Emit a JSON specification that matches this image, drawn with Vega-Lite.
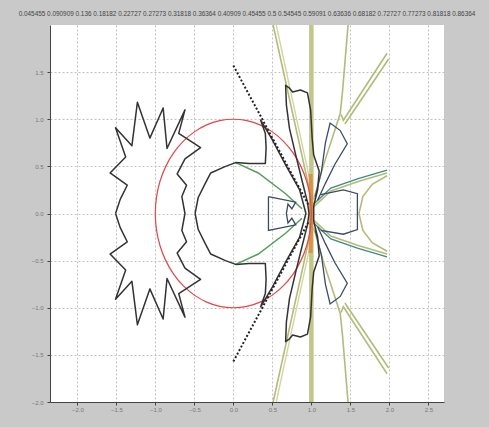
{
"$schema":"https://vega.github.io/schema/vega-lite/v6.json",
"width":394,"height":377,"autosize":"none",
"padding":{"left":50,"top":25,"right":45,"bottom":25},
"background":"#c9c9c9",
"config":{"view":{"fill":"white","stroke":null}},
"title":{"text":"0.045455 0.090909 0.136 0.18182 0.22727 0.27273 0.31818 0.36364 0.40909 0.45455 0.5 0.54545 0.59091 0.63636 0.68182 0.72727 0.77273 0.81818 0.86364","fontSize":6.4,"font":"Liberation Sans","fontWeight":"normal","color":"#444","offset":8,"anchor":"middle"},
"data":{"values":[
{"s":"circ","o":0,"x":1,"y":0},{"s":"circ","o":1,"x":0.985,"y":0.174},{"s":"circ","o":2,"x":0.94,"y":0.342},{"s":"circ","o":3,"x":0.866,"y":0.5},{"s":"circ","o":4,"x":0.766,"y":0.643},{"s":"circ","o":5,"x":0.643,"y":0.766},{"s":"circ","o":6,"x":0.5,"y":0.866},{"s":"circ","o":7,"x":0.342,"y":0.94},{"s":"circ","o":8,"x":0.174,"y":0.985},{"s":"circ","o":9,"x":0,"y":1},{"s":"circ","o":10,"x":-0.174,"y":0.985},{"s":"circ","o":11,"x":-0.342,"y":0.94},{"s":"circ","o":12,"x":-0.5,"y":0.866},{"s":"circ","o":13,"x":-0.643,"y":0.766},{"s":"circ","o":14,"x":-0.766,"y":0.643},{"s":"circ","o":15,"x":-0.866,"y":0.5},{"s":"circ","o":16,"x":-0.94,"y":0.342},{"s":"circ","o":17,"x":-0.985,"y":0.174},{"s":"circ","o":18,"x":-1,"y":0},{"s":"circ","o":19,"x":-0.985,"y":-0.174},{"s":"circ","o":20,"x":-0.94,"y":-0.342},{"s":"circ","o":21,"x":-0.866,"y":-0.5},{"s":"circ","o":22,"x":-0.766,"y":-0.643},{"s":"circ","o":23,"x":-0.643,"y":-0.766},{"s":"circ","o":24,"x":-0.5,"y":-0.866},{"s":"circ","o":25,"x":-0.342,"y":-0.94},{"s":"circ","o":26,"x":-0.174,"y":-0.985},{"s":"circ","o":27,"x":0,"y":-1},{"s":"circ","o":28,"x":0.174,"y":-0.985},{"s":"circ","o":29,"x":0.342,"y":-0.94},{"s":"circ","o":30,"x":0.5,"y":-0.866},{"s":"circ","o":31,"x":0.643,"y":-0.766},{"s":"circ","o":32,"x":0.766,"y":-0.643},{"s":"circ","o":33,"x":0.866,"y":-0.5},{"s":"circ","o":34,"x":0.94,"y":-0.342},{"s":"circ","o":35,"x":0.985,"y":-0.174},{"s":"circ","o":36,"x":1,"y":0},

{"s":"A","o":0,"x":-1.51,"y":0},{"s":"A","o":1,"x":-1.45,"y":0.15},{"s":"A","o":2,"x":-1.36,"y":0.3},{"s":"A","o":3,"x":-1.58,"y":0.43},{"s":"A","o":4,"x":-1.38,"y":0.6},{"s":"A","o":5,"x":-1.51,"y":0.91},{"s":"A","o":6,"x":-1.3,"y":0.72},{"s":"A","o":7,"x":-1.23,"y":1.18},{"s":"A","o":8,"x":-1.07,"y":0.8},{"s":"A","o":9,"x":-0.9,"y":1.12},{"s":"A","o":10,"x":-0.85,"y":0.69},{"s":"A","o":11,"x":-0.62,"y":1.1},{"s":"A","o":12,"x":-0.7,"y":0.85},{"s":"A","o":13,"x":-0.42,"y":0.7},{"s":"A","o":14,"x":-0.62,"y":0.58},{"s":"A","o":15,"x":-0.72,"y":0.42},{"s":"A","o":16,"x":-0.6,"y":0.3},{"s":"A","o":17,"x":-0.66,"y":0.18},{"s":"A","o":18,"x":-0.62,"y":0},{"s":"A","o":19,"x":-0.66,"y":-0.18},{"s":"A","o":20,"x":-0.6,"y":-0.3},{"s":"A","o":21,"x":-0.72,"y":-0.42},{"s":"A","o":22,"x":-0.62,"y":-0.58},{"s":"A","o":23,"x":-0.42,"y":-0.7},{"s":"A","o":24,"x":-0.7,"y":-0.85},{"s":"A","o":25,"x":-0.62,"y":-1.1},{"s":"A","o":26,"x":-0.85,"y":-0.69},{"s":"A","o":27,"x":-0.9,"y":-1.12},{"s":"A","o":28,"x":-1.07,"y":-0.8},{"s":"A","o":29,"x":-1.23,"y":-1.18},{"s":"A","o":30,"x":-1.3,"y":-0.72},{"s":"A","o":31,"x":-1.51,"y":-0.91},{"s":"A","o":32,"x":-1.38,"y":-0.6},{"s":"A","o":33,"x":-1.58,"y":-0.43},{"s":"A","o":34,"x":-1.36,"y":-0.3},{"s":"A","o":35,"x":-1.45,"y":-0.15},{"s":"A","o":36,"x":-1.51,"y":0},

{"s":"B","o":0,"x":-0.49,"y":0},{"s":"B","o":1,"x":-0.45,"y":0.17},{"s":"B","o":2,"x":-0.36,"y":0.32},{"s":"B","o":3,"x":-0.29,"y":0.43},{"s":"B","o":4,"x":-0.1,"y":0.5},{"s":"B","o":5,"x":0.03,"y":0.54},{"s":"B","o":6,"x":0.2,"y":0.53},{"s":"B","o":7,"x":0.41,"y":0.53},{"s":"B","o":8,"x":0.42,"y":0.7},{"s":"B","o":9,"x":0.41,"y":0.85},{"s":"B","o":10,"x":0.35,"y":0.99},{"s":"B","o":11,"x":0.5,"y":0.78},{"s":"B","o":12,"x":0.68,"y":0.5},{"s":"B","o":13,"x":0.85,"y":0.25},{"s":"B","o":14,"x":0.93,"y":0},{"s":"B","o":15,"x":0.85,"y":-0.25},{"s":"B","o":16,"x":0.68,"y":-0.5},{"s":"B","o":17,"x":0.5,"y":-0.78},{"s":"B","o":18,"x":0.35,"y":-0.99},{"s":"B","o":19,"x":0.41,"y":-0.85},{"s":"B","o":20,"x":0.42,"y":-0.7},{"s":"B","o":21,"x":0.41,"y":-0.53},{"s":"B","o":22,"x":0.2,"y":-0.53},{"s":"B","o":23,"x":0.03,"y":-0.54},{"s":"B","o":24,"x":-0.1,"y":-0.5},{"s":"B","o":25,"x":-0.29,"y":-0.43},{"s":"B","o":26,"x":-0.36,"y":-0.32},{"s":"B","o":27,"x":-0.45,"y":-0.17},{"s":"B","o":28,"x":-0.49,"y":0},

{"s":"C","o":0,"x":0.45,"y":0.18},{"s":"C","o":1,"x":0.8,"y":0.12},{"s":"C","o":2,"x":0.75,"y":0.05},{"s":"C","o":3,"x":0.7,"y":0.1},{"s":"C","o":4,"x":0.68,"y":0},{"s":"C","o":5,"x":0.7,"y":-0.1},{"s":"C","o":6,"x":0.75,"y":-0.05},{"s":"C","o":7,"x":0.8,"y":-0.12},{"s":"C","o":8,"x":0.45,"y":-0.18},{"s":"C","o":9,"x":0.45,"y":0.18},

{"s":"G1","o":0,"x":0.03,"y":0.54},{"s":"G1","o":1,"x":0.32,"y":0.43},{"s":"G1","o":2,"x":0.67,"y":0.21},{"s":"G1","o":3,"x":0.88,"y":0.05},
{"s":"G2","o":0,"x":0.03,"y":-0.54},{"s":"G2","o":1,"x":0.32,"y":-0.43},{"s":"G2","o":2,"x":0.67,"y":-0.21},{"s":"G2","o":3,"x":0.88,"y":-0.05},

{"s":"D1","o":0,"x":0,"y":1.57},{"s":"D1","o":1,"x":0.97,"y":0.08},
{"s":"D2","o":0,"x":0,"y":-1.57},{"s":"D2","o":1,"x":0.97,"y":-0.08},

{"s":"V","o":0,"x":1,"y":2},{"s":"V","o":1,"x":1,"y":-2},
{"s":"O","o":0,"x":0.99,"y":0.42},{"s":"O","o":1,"x":1,"y":0},{"s":"O","o":2,"x":0.99,"y":-0.42},

{"s":"R1","o":0,"x":0.97,"y":0},{"s":"R1","o":1,"x":0.95,"y":0.12},{"s":"R1","o":2,"x":0.88,"y":0.35},{"s":"R1","o":3,"x":0.8,"y":0.62},{"s":"R1","o":4,"x":0.72,"y":0.9},{"s":"R1","o":5,"x":0.68,"y":1.15},{"s":"R1","o":6,"x":0.67,"y":1.36},{"s":"R1","o":7,"x":0.72,"y":1.33},{"s":"R1","o":8,"x":0.76,"y":1.29},{"s":"R1","o":9,"x":0.86,"y":1.31},{"s":"R1","o":10,"x":0.95,"y":1.28},{"s":"R1","o":11,"x":0.99,"y":1.1},{"s":"R1","o":12,"x":1.01,"y":0.8},{"s":"R1","o":13,"x":1.03,"y":0.62},{"s":"R1","o":14,"x":1.1,"y":0.45},{"s":"R1","o":15,"x":1.08,"y":0.25},{"s":"R1","o":16,"x":1.03,"y":0.08},{"s":"R1","o":17,"x":1.03,"y":0},{"s":"R1","o":18,"x":1.03,"y":-0.08},{"s":"R1","o":19,"x":1.08,"y":-0.25},{"s":"R1","o":20,"x":1.1,"y":-0.45},{"s":"R1","o":21,"x":1.03,"y":-0.62},{"s":"R1","o":22,"x":1.01,"y":-0.8},{"s":"R1","o":23,"x":0.99,"y":-1.1},{"s":"R1","o":24,"x":0.95,"y":-1.28},{"s":"R1","o":25,"x":0.86,"y":-1.31},{"s":"R1","o":26,"x":0.76,"y":-1.29},{"s":"R1","o":27,"x":0.72,"y":-1.33},{"s":"R1","o":28,"x":0.67,"y":-1.36},{"s":"R1","o":29,"x":0.68,"y":-1.15},{"s":"R1","o":30,"x":0.72,"y":-0.9},{"s":"R1","o":31,"x":0.8,"y":-0.62},{"s":"R1","o":32,"x":0.88,"y":-0.35},{"s":"R1","o":33,"x":0.95,"y":-0.12},{"s":"R1","o":34,"x":0.97,"y":0},

{"s":"R2","o":0,"x":1.05,"y":0.18},{"s":"R2","o":1,"x":1.13,"y":0.45},{"s":"R2","o":2,"x":1.18,"y":0.75},{"s":"R2","o":3,"x":1.24,"y":0.96},{"s":"R2","o":4,"x":1.37,"y":0.88},{"s":"R2","o":5,"x":1.46,"y":0.74},{"s":"R2","o":6,"x":1.3,"y":0.52},{"s":"R2","o":7,"x":1.18,"y":0.32},{"s":"R2","o":8,"x":1.08,"y":0.14},
{"s":"R2b","o":0,"x":1.05,"y":-0.18},{"s":"R2b","o":1,"x":1.13,"y":-0.45},{"s":"R2b","o":2,"x":1.18,"y":-0.75},{"s":"R2b","o":3,"x":1.24,"y":-0.96},{"s":"R2b","o":4,"x":1.37,"y":-0.88},{"s":"R2b","o":5,"x":1.46,"y":-0.74},{"s":"R2b","o":6,"x":1.3,"y":-0.52},{"s":"R2b","o":7,"x":1.18,"y":-0.32},{"s":"R2b","o":8,"x":1.08,"y":-0.14},

{"s":"T","o":0,"x":1.12,"y":0.2},{"s":"T","o":1,"x":1.41,"y":0.25},{"s":"T","o":2,"x":1.59,"y":0.21},{"s":"T","o":3,"x":1.59,"y":-0.17},{"s":"T","o":4,"x":1.41,"y":-0.22},{"s":"T","o":5,"x":1.12,"y":-0.18},

{"s":"Y1","o":0,"x":0.51,"y":2},{"s":"Y1","o":1,"x":0.99,"y":0.2},
{"s":"Y1b","o":0,"x":0.51,"y":-2},{"s":"Y1b","o":1,"x":0.99,"y":-0.2},
{"s":"Y1p","o":0,"x":0.55,"y":2},{"s":"Y1p","o":1,"x":1,"y":0.28},
{"s":"Y1pb","o":0,"x":0.55,"y":-2},{"s":"Y1pb","o":1,"x":1,"y":-0.28},
{"s":"Y2","o":0,"x":1.47,"y":2},{"s":"Y2","o":1,"x":1.4,"y":1.3},{"s":"Y2","o":2,"x":1.37,"y":1.06},{"s":"Y2","o":3,"x":1.15,"y":0.5},{"s":"Y2","o":4,"x":1.03,"y":0.15},
{"s":"Y2b","o":0,"x":1.47,"y":-2},{"s":"Y2b","o":1,"x":1.4,"y":-1.3},{"s":"Y2b","o":2,"x":1.37,"y":-1.06},{"s":"Y2b","o":3,"x":1.15,"y":-0.5},{"s":"Y2b","o":4,"x":1.03,"y":-0.15},
{"s":"Y3","o":0,"x":1.38,"y":1.05},{"s":"Y3","o":1,"x":1.41,"y":0.99},{"s":"Y3","o":2,"x":1.97,"y":1.7},
{"s":"Y3p","o":0,"x":1.43,"y":0.95},{"s":"Y3p","o":1,"x":1.99,"y":1.64},
{"s":"Y3b","o":0,"x":1.38,"y":-1.05},{"s":"Y3b","o":1,"x":1.41,"y":-0.99},{"s":"Y3b","o":2,"x":1.97,"y":-1.7},
{"s":"Y3pb","o":0,"x":1.43,"y":-0.95},{"s":"Y3pb","o":1,"x":1.99,"y":-1.64},

{"s":"H1","o":0,"x":1.03,"y":0.1},{"s":"H1","o":1,"x":1.25,"y":0.27},{"s":"H1","o":2,"x":1.6,"y":0.37},{"s":"H1","o":3,"x":1.97,"y":0.46},
{"s":"H1b","o":0,"x":1.03,"y":-0.1},{"s":"H1b","o":1,"x":1.25,"y":-0.27},{"s":"H1b","o":2,"x":1.6,"y":-0.37},{"s":"H1b","o":3,"x":1.97,"y":-0.46},
{"s":"H2","o":0,"x":1.03,"y":0.07},{"s":"H2","o":1,"x":1.25,"y":0.24},{"s":"H2","o":2,"x":1.6,"y":0.34},{"s":"H2","o":3,"x":1.97,"y":0.43},
{"s":"H2b","o":0,"x":1.03,"y":-0.07},{"s":"H2b","o":1,"x":1.25,"y":-0.24},{"s":"H2b","o":2,"x":1.6,"y":-0.34},{"s":"H2b","o":3,"x":1.97,"y":-0.43},
{"s":"Hi","o":0,"x":1.97,"y":0.4},{"s":"Hi","o":1,"x":1.78,"y":0.31},{"s":"Hi","o":2,"x":1.66,"y":0.18},{"s":"Hi","o":3,"x":1.61,"y":0},{"s":"Hi","o":4,"x":1.66,"y":-0.18},{"s":"Hi","o":5,"x":1.78,"y":-0.31},{"s":"Hi","o":6,"x":1.97,"y":-0.4}
]},
"encoding":{
"x":{"field":"x","type":"quantitative","scale":{"domain":[-2.35,2.7],"nice":false,"zero":false},
"axis":{"values":[-2,-1.5,-1,-0.5,0,0.5,1,1.5,2,2.5],"title":null,"labelFontSize":6,"labelColor":"#777","labelFont":"Liberation Sans","tickSize":3,"domainColor":"#444","tickColor":"#444","gridColor":"#c2c2c2","gridDash":[2,2],"labelPadding":1,"labelFlush":false}},
"y":{"field":"y","type":"quantitative","scale":{"domain":[-2,2],"nice":false,"zero":false},
"axis":{"values":[-2,-1.5,-1,-0.5,0,0.5,1,1.5],"title":null,"labelFontSize":6,"labelColor":"#777","labelFont":"Liberation Sans","tickSize":3,"domainColor":"#444","tickColor":"#444","gridColor":"#c2c2c2","gridDash":[2,2],"labelPadding":4,"labelFlush":false}},
"detail":{"field":"s"},
"order":{"field":"o","type":"quantitative"}
},
"layer":[
{"transform":[{"filter":{"field":"s","equal":"V"}}],"mark":{"type":"line","color":"#c3c68a","strokeWidth":4.5,"clip":true}},
{"transform":[{"filter":{"field":"s","oneOf":["Y1","Y1b","Y2","Y2b","Y3","Y3b","Y3p","Y3pb","Hi","H2","H2b"]}}],"mark":{"type":"line","color":"#b3bb7a","strokeWidth":1.6,"clip":true}},
{"transform":[{"filter":{"field":"s","oneOf":["Y1p","Y1pb"]}}],"mark":{"type":"line","color":"#d2d69e","strokeWidth":1.4,"clip":true}},
{"transform":[{"filter":{"field":"s","equal":"O"}}],"mark":{"type":"line","color":"#d98a3e","strokeWidth":4,"opacity":0.85,"clip":true}},
{"transform":[{"filter":{"field":"s","equal":"circ"}}],"mark":{"type":"line","color":"#e04848","strokeWidth":1.2,"interpolate":"cardinal","clip":true}},
{"transform":[{"filter":{"field":"s","oneOf":["H1","H1b"]}}],"mark":{"type":"line","color":"#3f8a86","strokeWidth":1.4,"clip":true}},
{"transform":[{"filter":{"field":"s","oneOf":["G1","G2"]}}],"mark":{"type":"line","color":"#55a05a","strokeWidth":1.5,"clip":true}},
{"transform":[{"filter":{"field":"s","oneOf":["C","R2","R2b","T"]}}],"mark":{"type":"line","color":"#3b4a66","strokeWidth":1.3,"clip":true}},
{"transform":[{"filter":{"field":"s","oneOf":["A","B","R1"]}}],"mark":{"type":"line","color":"#333333","strokeWidth":1.5,"strokeJoin":"round","clip":true}},
{"transform":[{"filter":{"field":"s","oneOf":["D1","D2"]}}],"mark":{"type":"line","color":"#222222","strokeWidth":2,"strokeDash":[2,2],"clip":true}}
]
}
